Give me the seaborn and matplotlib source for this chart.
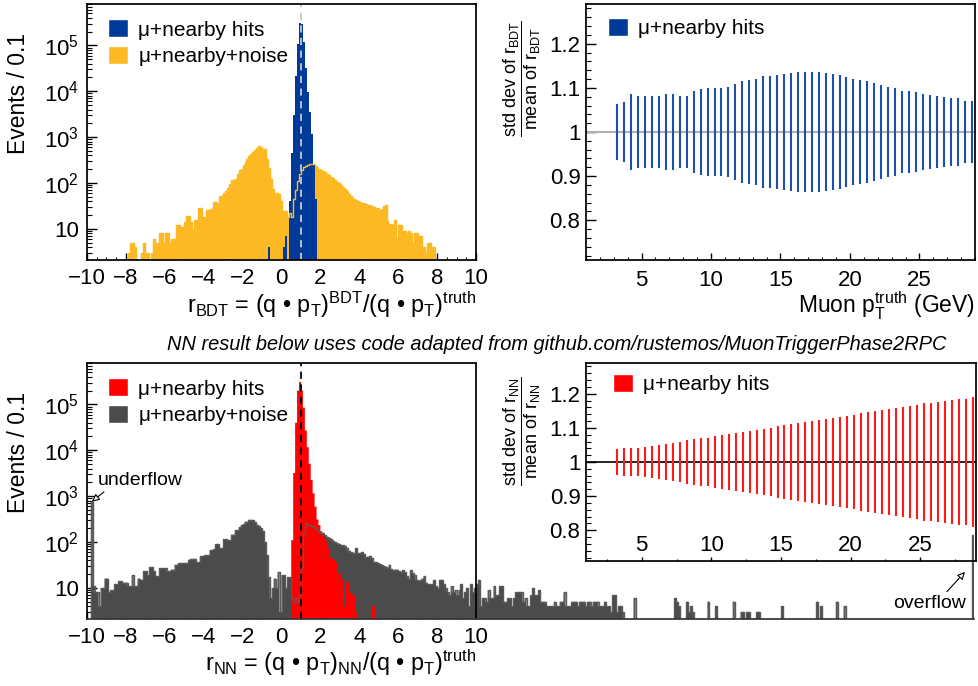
import numpy as np
import pandas as pd
import matplotlib
matplotlib.use('Agg')
import matplotlib.pyplot as plt
import matplotlib.ticker as mticker
from matplotlib.patches import Patch
import seaborn as sns

# --- Style ---
sns.set_style('ticks')
plt.rcParams['font.family'] = ['Liberation Sans', 'DejaVu Sans']
plt.rcParams['mathtext.fontset'] = 'custom'
plt.rcParams['mathtext.rm'] = 'Liberation Sans'
plt.rcParams['mathtext.it'] = 'Liberation Sans:italic'
plt.rcParams['mathtext.bf'] = 'Liberation Sans:bold'
for key in ['axes.edgecolor', 'text.color', 'axes.labelcolor', 'xtick.color', 'ytick.color']:
    plt.rcParams[key] = 'black'

BLUE = '#003a99'
YELLOW = '#fdb923'
RED = '#ff0000'
GREY = '#4b4b4b'
BLUE_BAR = '#1f50a8'
RED_BAR = '#ff1a1a'
BULLET = '\u2022'

# --- Data ---
BIN_W = 0.1

# BDT, mu + nearby + noise, bins of 0.1 starting at -8.0
bdt_noise_start = -8.0
bdt_noise_counts = [
    0, 3, 5, 5, 4, 0, 0, 0, 3, 5,
    3, 3, 0, 3, 6, 5, 5, 8, 8, 5,
    8, 8, 5, 6, 6, 6, 12, 12, 11, 11,
    14, 19, 19, 14, 10, 16, 16, 28, 28, 18,
    18, 26, 26, 27, 27, 38, 38, 35, 51, 51,
    60, 66, 78, 95, 115, 118, 122, 160, 190, 205,
    250, 290, 330, 380, 420, 470, 530, 590, 630, 620,
    560, 540, 340, 215, 120, 74, 62, 60, 58, 40,
    15, 24, 24, 18, 22, 18, 45, 72, 110, 160,
    190, 225, 240, 250, 258, 260, 255, 235, 215, 200,
    188, 182, 172, 160, 148, 136, 126, 116, 108, 100,
    92, 82, 76, 66, 58, 53, 48, 45, 42, 40,
    38, 37, 36, 35, 34, 33, 31, 30, 29, 28,
    26, 27, 32, 33, 15, 13, 13, 12, 16, 6,
    12, 12, 9, 9, 8, 9, 8, 5, 8, 8,
    7, 7, 4, 4, 3, 5, 5, 4, 4, 0,
]

# BDT, mu + nearby hits, starting at -0.7
bdt_hits_start = -0.7
bdt_hits_counts = [4, 0, 0, 0, 0, 0, 0, 0, 4, 7, 0, 40, 450, 3000, 22000,
                   110000, 310000, 290000, 120000, 32000, 9500, 3500, 1200, 250, 45]

# NN, mu + nearby hits, starting at 0.5
nn_hits_start = 0.5
nn_hits_counts = [110, 3200, 40000, 200000, 310000, 200000, 85000, 27000, 11700, 5100,
                  2240, 1150, 590, 310, 234, 170, 140, 120, 100, 70,
                  45, 44, 40, 35, 20, 20, 15, 4, 14, 13,
                  8, 7, 7, 3, 0, 0, 0, 0, 0, 0,
                  0, 4, 4]

# NN, mu + nearby + noise, starting at -10.0 (underflow sits in the third bin)
nn_noise_start = -10.0
nn_noise_counts = [
    0, 0, 760, 11, 8, 8, 4, 10, 10, 16,
    16, 8, 9, 9, 12, 12, 14, 14, 13, 13,
    13, 11, 11, 19, 11, 11, 16, 15, 15, 23,
    23, 19, 28, 28, 23, 18, 18, 27, 27, 27,
    27, 23, 23, 25, 25, 32, 32, 35, 35, 35,
    35, 35, 41, 43, 43, 43, 36, 36, 49, 49,
    51, 51, 51, 67, 67, 69, 90, 90, 73, 73,
    115, 115, 110, 110, 145, 145, 183, 183, 210, 230,
    246, 277, 277, 305, 305, 300, 270, 240, 225, 200,
    173, 100, 51, 17, 6, 10, 16, 10, 22, 3,
    19, 19, 10, 17, 17, 6, 5, 6, 5, 7,
    27, 160, 255, 240, 235, 225, 210, 198, 180, 170,
    160, 154, 140, 131, 125, 118, 108, 100, 94, 90,
    86, 86, 80, 73, 65, 60, 59, 58, 73, 57,
    58, 61, 55, 47, 48, 50, 45, 37, 36, 35,
    33, 32, 30, 29, 27, 32, 26, 24, 25, 25,
    23, 22, 24, 22, 18, 16, 24, 21, 19, 15,
    14, 15, 16, 18, 13, 12, 12, 12, 15, 11,
    10, 15, 15, 12, 10, 8, 7, 11, 8, 9,
    7, 9, 12, 6, 8, 10, 4, 12, 8, 10,
    12, 15, 4, 6, 6, 5, 9, 6, 6, 11,
    7, 7, 11, 11, 5, 5, 6, 6, 4, 6,
    8, 8, 8, 8, 5, 6, 4, 4, 7, 10,
    7, 7, 9, 5, 5, 5, 4, 4, 4, 4,
    5, 4, 4, 5, 5, 8, 4, 4, 4, 5,
    5, 5, 4, 5, 5, 5, 4, 5, 5, 4,
    5, 5, 5, 4, 4, 4, 5, 4, 4, 3,
    7, 7, 3, 4, 4, 3,
]
# sparse tail beyond the dense part, plus the overflow bin
nn_noise_tail_x = [18.15, 20.25, 20.35, 20.45, 20.85, 20.95, 21.05, 21.15, 21.95, 22.35,
                   23.25, 23.65, 23.75, 23.95, 24.05, 24.45, 24.55, 25.75, 27.55, 27.75,
                   28.55, 28.95]
nn_noise_tail_n = [6, 6, 5, 4, 5, 3, 4, 3, 5, 4,
                   5, 3, 3, 3, 3, 3, 3, 4, 5, 4,
                   5, 4]
overflow_x = 35.55
overflow_n = 140

# resolution vs muon pT, bins of 0.5 GeV from 3 to 29
pt_lo, pt_hi, pt_w = 3.0, 29.0, 0.5
bdt_spread = [0.063, 0.069, 0.085, 0.081, 0.081, 0.081, 0.081, 0.085, 0.086, 0.081,
              0.082, 0.092, 0.097, 0.099, 0.099, 0.100, 0.103, 0.109, 0.115, 0.118,
              0.119, 0.126, 0.128, 0.130, 0.131, 0.134, 0.135, 0.135, 0.137, 0.135,
              0.133, 0.131, 0.129, 0.124, 0.121, 0.117, 0.116, 0.111, 0.106, 0.103,
              0.100, 0.094, 0.093, 0.091, 0.086, 0.084, 0.082, 0.080, 0.077, 0.076,
              0.071, 0.070]
nn_spread = [0.037, 0.040, 0.042, 0.042, 0.044, 0.046, 0.049, 0.052, 0.057, 0.059,
             0.063, 0.066, 0.069, 0.071, 0.075, 0.078, 0.081, 0.085, 0.088, 0.092,
             0.095, 0.098, 0.100, 0.104, 0.107, 0.110, 0.114, 0.117, 0.120, 0.124,
             0.127, 0.129, 0.133, 0.136, 0.139, 0.143, 0.146, 0.149, 0.153, 0.156,
             0.158, 0.162, 0.165, 0.168, 0.172, 0.174, 0.177, 0.180, 0.183, 0.185,
             0.186, 0.190]

LABEL_HITS = '\u03bc+nearby hits'
LABEL_NOISE = '\u03bc+nearby+noise'


def binned_frame(start, counts):
    counts = np.asarray(counts, dtype=float)
    centres = start + BIN_W * (np.arange(len(counts)) + 0.5)
    return pd.DataFrame({'r': np.round(centres, 3), 'n': counts})


def draw_hist(ax, df, bins, color, fill=True, lw=0.0):
    sns.histplot(data=df, x='r', weights='n', bins=list(bins), element='step',
                 fill=fill, color=color, alpha=1, linewidth=lw, ax=ax)


def log_axis(ax):
    ax.set_yscale('log')
    ax.set_ylim(2.1, 8e5)
    ax.set_yticks([10, 1e2, 1e3, 1e4, 1e5])
    ax.set_yticklabels(['10', r'$\mathrm{10^{2}}$', r'$\mathrm{10^{3}}$',
                        r'$\mathrm{10^{4}}$', r'$\mathrm{10^{5}}$'])
    ax.yaxis.set_minor_locator(mticker.LogLocator(base=10, subs=np.arange(2, 10), numticks=30))
    ax.yaxis.set_minor_formatter(mticker.NullFormatter())
    ax.tick_params(axis='both', which='both', direction='in', top=False, right=False,
                   labelsize=16)
    ax.tick_params(axis='y', which='major', length=7.5, width=1, pad=6)
    ax.tick_params(axis='y', which='minor', length=3.8, width=0.8)
    ax.tick_params(axis='x', which='major', length=5, width=1, pad=6)
    ax.tick_params(axis='x', which='minor', length=2.5, width=0.8)


def ratio_axis(ax):
    ax.set_xlim(1, 29)
    ax.set_ylim(0.71, 1.29)
    ax.set_yticks([0.8, 0.9, 1.0, 1.1, 1.2])
    ax.set_yticklabels(['0.8', '0.9', '1', '1.1', '1.2'])
    ax.yaxis.set_minor_locator(mticker.MultipleLocator(0.02))
    ax.xaxis.set_major_locator(mticker.FixedLocator([5, 10, 15, 20, 25]))
    ax.tick_params(axis='both', which='both', direction='in', top=False, right=False,
                   labelsize=16)
    ax.tick_params(axis='y', which='major', length=7.5, width=1, pad=4)
    ax.tick_params(axis='y', which='minor', length=3.8, width=0.8)


top_edges = np.round(np.linspace(-10, 10, 201), 3)
bottom_edges = np.round(np.linspace(-10, 35.6, 457), 3)
pt_centres = np.arange(pt_lo + pt_w / 2, pt_hi, pt_w)

df_bdt_noise = binned_frame(bdt_noise_start, bdt_noise_counts)
df_bdt_hits = binned_frame(bdt_hits_start, bdt_hits_counts)
df_nn_hits = binned_frame(nn_hits_start, nn_hits_counts)
df_nn_noise = pd.concat([
    binned_frame(nn_noise_start, nn_noise_counts),
    pd.DataFrame({'r': nn_noise_tail_x, 'n': nn_noise_tail_n}),
    pd.DataFrame({'r': [overflow_x], 'n': [overflow_n]}),
], ignore_index=True)

W, H = 979, 686
fig = plt.figure(figsize=(W / 100, H / 100), dpi=100)


def px_axes(x0, y0, x1, y1):
    return fig.add_axes([x0 / W, 1 - y1 / H, (x1 - x0) / W, (y1 - y0) / H])


# --- Top left: BDT response ---
ax1 = px_axes(87, 4, 476, 260)
ax1.set_yscale('log')
draw_hist(ax1, df_bdt_noise, top_edges, YELLOW)
draw_hist(ax1, df_bdt_hits, top_edges, BLUE)
draw_hist(ax1, df_bdt_noise, top_edges, YELLOW, fill=False, lw=1.0)
ax1.axvline(1, color='#c8c8c8', ls=(0, (4, 3)), lw=1.3)
ax1.set_xlim(-10, 10)
log_axis(ax1)
ax1.xaxis.set_major_locator(mticker.MultipleLocator(2))
ax1.xaxis.set_minor_locator(mticker.MultipleLocator(0.5))
ax1.set_ylabel('Events / 0.1', fontsize=16.5)
ax1.yaxis.set_label_coords(-0.146, 0.65)
ax1.set_xlabel(r'r$_{\mathrm{BDT}}$ = (q ' + BULLET + r' p$_{\mathrm{T}}$)$^{\mathrm{BDT}}$/(q '
               + BULLET + r' p$_{\mathrm{T}}$)$^{\mathrm{truth}}$', fontsize=16.8, ha='right')
ax1.xaxis.set_label_coords(1.0, -0.115)
ax1.legend(handles=[Patch(facecolor=BLUE, label=LABEL_HITS),
                    Patch(facecolor=YELLOW, label=LABEL_NOISE)],
           loc='upper left', bbox_to_anchor=(0.054, 0.94), frameon=False, fontsize=15,
           handlelength=0.95, handleheight=0.95, handletextpad=0.5, labelspacing=0.3,
           borderpad=0, borderaxespad=0)

# --- Top right: BDT spread vs pT ---
ax2 = px_axes(586, 4, 975, 260)
ax2.axhline(1, color='#b0b0b0', lw=1.5, zorder=1)
ax2.vlines(pt_centres, 1 - np.array(bdt_spread), 1 + np.array(bdt_spread),
           color=BLUE_BAR, lw=1.5, zorder=2)
ratio_axis(ax2)
ax2.xaxis.set_minor_locator(mticker.MultipleLocator(1))
ax2.tick_params(axis='x', which='major', length=5, width=1, pad=7)
ax2.tick_params(axis='x', which='minor', length=2.5, width=0.8)
ax2.set_ylabel(r'$\dfrac{\mathrm{std\ dev\ of\ r_{BDT}}}{\mathrm{mean\ of\ r_{BDT}}}$', fontsize=13)
ax2.yaxis.set_label_coords(-0.11, 0.71)
ax2.set_xlabel(r'Muon p$_{\mathrm{T}}^{\mathrm{truth}}$ (GeV)', fontsize=16.5, ha='right')
ax2.xaxis.set_label_coords(1.0, -0.115)
ax2.legend(handles=[Patch(facecolor=BLUE, label=LABEL_HITS)],
           loc='upper left', bbox_to_anchor=(0.057, 0.945), frameon=False, fontsize=15,
           handlelength=0.95, handleheight=0.95, handletextpad=0.5,
           borderpad=0, borderaxespad=0)

# --- Bottom: NN response (drawn past the frame up to the overflow bin) ---
ax3 = px_axes(87, 363, 974, 619)
ax3.set_yscale('log')
draw_hist(ax3, df_nn_noise, bottom_edges, GREY)
draw_hist(ax3, df_nn_hits, bottom_edges, RED)
draw_hist(ax3, df_nn_noise, bottom_edges, '#5a5a5a', fill=False, lw=1.0)
ax3.axvline(1, color='black', ls=(0, (4, 3)), lw=1.3)
ax3.set_xlim(-10, 35.6)
log_axis(ax3)
ax3.xaxis.set_major_locator(mticker.FixedLocator(np.arange(-10, 11, 2)))
ax3.xaxis.set_minor_locator(mticker.FixedLocator(np.arange(-9, 10, 2)))
ax3.spines['top'].set_bounds(-10, 10)
ax3.spines['right'].set_visible(False)
ax3.spines['bottom'].set_color('#333333')
ax3.axvline(10, color='black', lw=1.25)
ax3.set_ylabel('Events / 0.1', fontsize=16.5)
ax3.yaxis.set_label_coords(-0.064, 0.65)
ax3.set_xlabel(r'r$_{\mathrm{NN}}$ = (q ' + BULLET + r' p$_{\mathrm{T}}$)$_{\mathrm{NN}}$/(q '
               + BULLET + r' p$_{\mathrm{T}}$)$^{\mathrm{truth}}$', fontsize=16.8, ha='right')
ax3.xaxis.set_label_coords((476 - 87) / 887, -0.11)
ax3.legend(handles=[Patch(facecolor=RED, label=LABEL_HITS),
                    Patch(facecolor=GREY, label=LABEL_NOISE)],
           loc='upper left', bbox_to_anchor=(0.0237, 0.94), frameon=False, fontsize=15,
           handlelength=0.95, handleheight=0.95, handletextpad=0.5, labelspacing=0.3,
           borderpad=0, borderaxespad=0)

uf_idx = int(np.argmax(nn_noise_counts[:5]))
uf_x = nn_noise_start + BIN_W * (uf_idx + 0.5)
arrow = dict(arrowstyle='-|>', fc='white', ec='black', lw=0.8, mutation_scale=11,
             shrinkA=0, shrinkB=0)
ax3.annotate('underflow', xy=(uf_x, nn_noise_counts[uf_idx]), xytext=(6, 13),
             textcoords='offset pixels', ha='left', va='bottom', fontsize=14,
             arrowprops=dict(arrow, relpos=(0.12, 0.0)))
ax3.annotate('overflow', xy=(0.9898, 0.184), xycoords='axes fraction', xytext=(-72, -40),
             textcoords='offset pixels', ha='left', va='bottom', fontsize=14,
             arrowprops=dict(arrow, relpos=(0.7, 1.0)))

# --- Inset: NN spread vs pT ---
ax4 = px_axes(586, 363, 976, 561)
ax4.patch.set_alpha(0)
ax4.axhline(1, color='black', lw=1.2, zorder=1)
ax4.vlines(pt_centres, 1 - np.array(nn_spread), 1 + np.array(nn_spread),
           color=RED_BAR, lw=1.5, zorder=2)
ratio_axis(ax4)
ax4.xaxis.set_minor_locator(mticker.MultipleLocator(2.5))
ax4.tick_params(axis='x', which='major', length=3, width=1, pad=-19)
ax4.tick_params(axis='x', which='minor', length=1.5, width=0.8)
ax4.set_ylabel(r'$\dfrac{\mathrm{std\ dev\ of\ r_{NN}}}{\mathrm{mean\ of\ r_{NN}}}$', fontsize=13)
ax4.yaxis.set_label_coords(-0.11, 0.657)
ax4.legend(handles=[Patch(facecolor=RED, label=LABEL_HITS)],
           loc='upper left', bbox_to_anchor=(0.069, 0.945), frameon=False, fontsize=15,
           handlelength=0.95, handleheight=0.95, handletextpad=0.5,
           borderpad=0, borderaxespad=0)

for a in [ax1, ax2, ax3, ax4]:
    for s in a.spines.values():
        s.set_linewidth(1.25)

fig.text(557 / W, 1 - 345 / H,
         'NN result below uses code adapted from github.com/rustemos/MuonTriggerPhase2RPC',
         ha='center', va='center', fontsize=14.4, style='italic')

fig.savefig('out.png', dpi=100)
